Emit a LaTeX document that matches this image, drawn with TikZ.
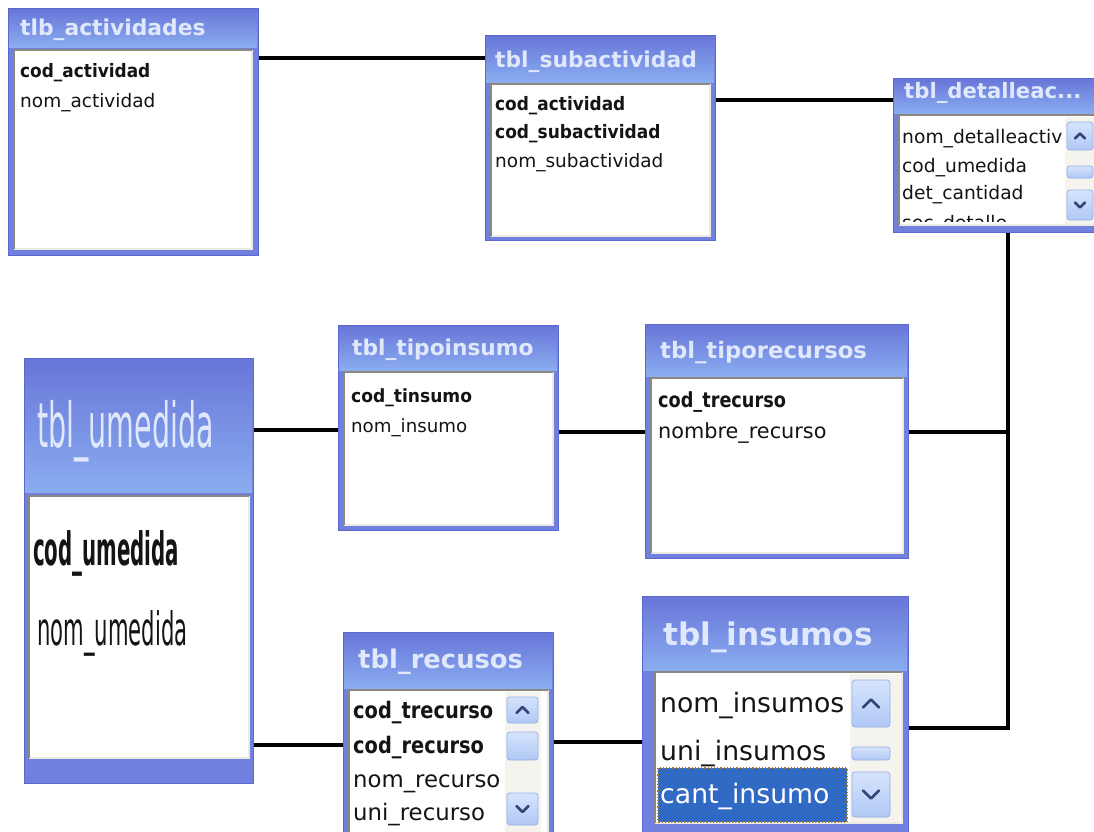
\documentclass[tikz,border=0pt]{standalone}
\usepackage{fontspec}
\setmainfont{DejaVu Sans}
\usepackage{graphicx}
\definecolor{frameblue}{RGB}{112,128,222}
\definecolor{frameedge}{RGB}{92,104,205}
\definecolor{titletop}{RGB}{104,118,216}
\definecolor{titlebot}{RGB}{138,172,240}
\definecolor{titletext}{RGB}{224,232,252}
\definecolor{bevel}{RGB}{140,136,125}
\definecolor{bevellight}{RGB}{236,234,226}
\definecolor{track}{RGB}{244,243,238}
\definecolor{btntop}{RGB}{214,228,252}
\definecolor{btnbot}{RGB}{176,200,246}
\definecolor{btnedge}{RGB}{150,175,230}
\definecolor{arrowc}{RGB}{50,70,120}
\definecolor{selblue}{RGB}{49,106,197}
\definecolor{seldot}{RGB}{170,120,40}
\definecolor{fieldtext}{RGB}{20,20,20}
\newcommand\fsz[1]{\fontsize{#1}{#1}\selectfont}
\newcommand\bfld[2]{\scalebox{#1}[1]{\bfseries #2}}
\tikzset{
 tframe/.style={draw=frameedge, line width=1pt, fill=frameblue, inner sep=0pt, anchor=north west},
 ttl/.style={text=titletext, inner sep=0pt, anchor=base west},
 fld/.style={text=fieldtext, inner sep=0pt, anchor=base west},
 conn/.style={line width=3.2pt, black},
 sbbtn/.style={draw=btnedge, line width=0.8pt, rounded corners=3pt, top color=btntop, bottom color=btnbot},
 chev/.style={arrowc, line width=2.6pt, line cap=round, line join=round},
}
\newcommand\dbframe[6]{%
  \node[tframe, minimum width={#4-#2}, minimum height={#5-#3}] (#1) at (#2,#3) {};
  \shade[top color=titletop, bottom color=titlebot] ({#2+1},{#3+1}) rectangle ({#4-1},#6);
}
\newcommand\dbpanel[4]{%
  \fill[white] (#1,#2) rectangle (#3,#4);
  \draw[bevellight, line width=1.5pt] (#1,#4) -- (#3,#4) -- (#3,#2);
  \draw[bevel, line width=2pt] (#1,#4) -- (#1,#2) -- (#3,#2);
}
% x1 y1 x2 y2 halfsize
\newcommand\sbup[5]{%
  \draw[sbbtn] (#1,#2) rectangle (#3,#4);
  \draw[chev] ({(#1+#3)/2-#5},{(#2+#4)/2+#5/2}) -- ({(#1+#3)/2},{(#2+#4)/2-#5/2}) -- ({(#1+#3)/2+#5},{(#2+#4)/2+#5/2});
}
\newcommand\sbdown[5]{%
  \draw[sbbtn] (#1,#2) rectangle (#3,#4);
  \draw[chev] ({(#1+#3)/2-#5},{(#2+#4)/2-#5/2}) -- ({(#1+#3)/2},{(#2+#4)/2+#5/2}) -- ({(#1+#3)/2+#5},{(#2+#4)/2-#5/2});
}
\newcommand\sbthumb[4]{\draw[sbbtn] (#1,#2) rectangle (#3,#4);}
\begin{document}
\begin{tikzpicture}[x=1pt,y=-1pt]
\useasboundingbox (0,0) rectangle (1094,831);
\clip (0,0) rectangle (1094,831);
\fill[white] (0,0) rectangle (1094,831);

% tlb_actividades
\dbframe{act}{8}{8}{258}{255}{47}
\dbpanel{14}{50}{252}{249}
\node[ttl, font={\fsz{21.8}\bfseries}] (actT) at (20,35) {tlb\_actividades};
\node[fld, font=\fsz{18.5}] (actF1) at (20,77) {\bfld{0.915}{cod\_actividad}};
\node[fld, font=\fsz{18.5}] (actF2) at (20,107) {nom\_actividad};

% tbl_subactividad
\dbframe{sub}{485}{35}{715}{240}{82}
\dbpanel{491}{84}{710}{236}
\node[ttl, font={\fsz{21.8}\bfseries}] (subT) at (495,67) {tbl\_subactividad};
\node[fld, font=\fsz{18.5}] (subF1) at (495,110) {\bfld{0.915}{cod\_actividad}};
\node[fld, font=\fsz{18.5}] (subF2) at (495,138) {\bfld{0.92}{cod\_subactividad}};
\node[fld, font=\fsz{18.5}] (subF3) at (495,167) {nom\_subactividad};

% tbl_detalleac...
\dbframe{det}{893}{78}{1110}{232}{113}
\dbpanel{899}{115}{1110}{225}
\node[ttl, font={\fsz{21.2}\bfseries}] (detT) at (904,98) {tbl\_detalleac...};
\fill[track] (1065,117) rectangle (1094,224);
\begin{scope}
\clip (900,116) rectangle (1064,221);
\node[fld, font=\fsz{18.7}] (detF1) at (902,143) {nom\_detalleactiv};
\node[fld, font=\fsz{18.7}] (detF2) at (902,172) {cod\_umedida};
\node[fld, font=\fsz{18.7}] (detF3) at (902,199) {det\_cantidad};
\node[fld, font=\fsz{18.7}] (detF4) at (902,229) {sec\_detalle};
\end{scope}
\sbup{1067}{122}{1093}{150}{5}
\sbthumb{1067}{166}{1093}{178}
\sbdown{1067}{190}{1093}{220}{5}

% tbl_umedida
\dbframe{ume}{24}{358}{253}{783}{492}
\dbpanel{29}{496}{249}{758}
\node[ttl, font=\fsz{62}] (umeT) at (37,447) {\scalebox{0.46}[1]{tbl\_umedida}};
\node[fld, font=\fsz{46}] (umeF1) at (33,565) {\bfld{0.43}{cod\_umedida}};
\node[fld, font=\fsz{46}] (umeF2) at (37,645) {\scalebox{0.46}[1]{nom\_umedida}};

% tbl_tipoinsumo
\dbframe{tin}{338}{325}{558}{530}{370}
\dbpanel{344}{372}{553}{525}
\node[ttl, font={\fsz{21.7}\bfseries}] (tinT) at (352,355) {tbl\_tipoinsumo};
\node[fld, font=\fsz{18.2}] (tinF1) at (351,402) {\bfld{0.94}{cod\_tinsumo}};
\node[fld, font=\fsz{18.2}] (tinF2) at (351,432) {nom\_insumo};

% tbl_tiporecursos
\dbframe{trc}{645}{324}{908}{558}{376}
\dbpanel{651}{378}{903}{553}
\node[ttl, font={\fsz{22.7}\bfseries}] (trcT) at (660,358) {tbl\_tiporecursos};
\node[fld, font=\fsz{20.8}] (trcF1) at (658,407) {\bfld{0.85}{cod\_trecurso}};
\node[fld, font=\fsz{20.8}] (trcF2) at (658,438) {nombre\_recurso};

% tbl_recusos
\dbframe{rec}{343}{632}{553}{845}{688}
\dbpanel{349}{690}{548}{845}
\node[ttl, font={\fsz{25.8}\bfseries}] (recT) at (358,668) {tbl\_recusos};
\fill[track] (505,692) rectangle (541,845);
\node[fld, font=\fsz{22.8}] (recF1) at (353,718) {\bfld{0.85}{cod\_trecurso}};
\node[fld, font=\fsz{22.8}] (recF2) at (353,753) {\bfld{0.85}{cod\_recurso}};
\node[fld, font=\fsz{22.8}] (recF3) at (353,787) {nom\_recurso};
\node[fld, font=\fsz{22.8}] (recF4) at (353,820) {uni\_recurso};
\sbup{507}{697}{538}{723}{6}
\sbthumb{507}{732}{538}{760}
\sbdown{507}{793}{538}{825}{6}

% tbl_insumos
\dbframe{ins}{642}{596}{908}{845}{670}
\dbpanel{655}{672}{902}{823}
\node[ttl, font={\fsz{31.2}\bfseries}] (insT) at (663,645) {tbl\_insumos};
\fill[track] (850,674) rectangle (900,822);
\fill[selblue] (658,768) rectangle (847,822);
\draw[seldot, dotted, line width=1.2pt] (658,768) rectangle (847,822);
\node[fld, font=\fsz{26.7}] (insF1) at (660,712) {nom\_insumos};
\node[fld, font=\fsz{26.7}] (insF2) at (660,760) {uni\_insumos};
\node[fld, font=\fsz{26.7}, text=white] (insF3) at (660,803) {cant\_insumo};
\sbup{852}{680}{890}{727}{8}
\sbthumb{852}{747}{890}{760}
\sbdown{852}{772}{890}{817}{8}

% connectors
\coordinate (j1) at (1008,432);
\draw[conn] (act.east |- 0,58) -- (sub.west |- 0,58);
\draw[conn] (sub.east |- 0,100) -- (det.west |- 0,100);
\draw[conn] (1008,0 |- det.south) |- (ins.east |- 0,728);
\draw[conn] (trc.east |- 0,432) -- (j1);
\draw[conn] (ume.east |- 0,430) -- (tin.west |- 0,430);
\draw[conn] (tin.east |- 0,432) -- (trc.west |- 0,432);
\draw[conn] (ume.east |- 0,745) -- (rec.west |- 0,745);
\draw[conn] (rec.east |- 0,742) -- (ins.west |- 0,742);
\end{tikzpicture}
\end{document}
